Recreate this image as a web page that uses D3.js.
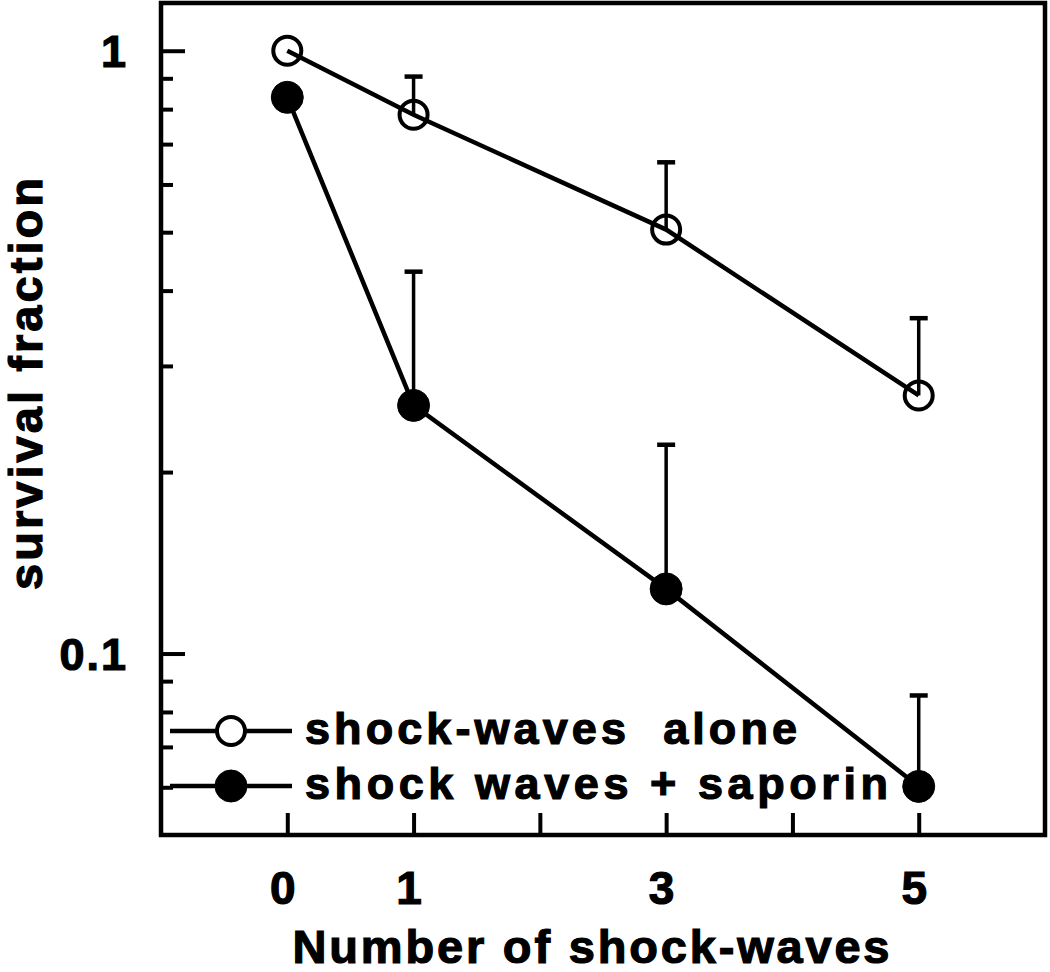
<!DOCTYPE html>
<html>
<head>
<meta charset="utf-8">
<script src="https://cdn.jsdelivr.net/npm/d3@7"></script>
<style>
  body { margin: 0; background: #fff; }
  text { font-family: "Liberation Sans", Arial, sans-serif; font-weight: bold; fill: #000; stroke: #000; stroke-width: 1.2px; }
</style>
</head>
<body>
<script>
var w = 1050, h = 972;

// data
var shocks = [0, 1, 3, 5];
var aloneMean = [1.0, 0.783, 0.505, 0.268];
var aloneUpper = [null, 0.906, 0.653, 0.360];
var saporinMean = [0.837, 0.258, 0.128, 0.0602];
var saporinUpper = [null, 0.430, 0.222, 0.0852];

var xTicks = [0, 1, 2, 3, 4, 5];
var xTickLabels = ["0", "1", "", "3", "", "5"];
var yMajor = [0.1, 1];
var yMinor = [0.06, 0.07, 0.08, 0.09, 0.2, 0.3, 0.4, 0.5, 0.6, 0.7, 0.8, 0.9];

var legendNames = ["shock-waves  alone", "shock waves + saporin"];

// plot box (window.top is reserved, so avoid "top")
var plotL = 161, plotR = 1045, plotT = 3, plotB = 835;

var svg = d3.select("body")
  .append("svg")
  .attr("width", w)
  .attr("height", h)
  .style("background-color", "#fff");

var x = d3.scaleLinear()
  .domain([-1, 6])
  .range([plotL, plotR]);

var y = d3.scaleLog()
  .domain([0.05, 1.2])
  .range([plotB, plotT]);

// y axis, inward ticks
var gy = svg.append("g")
  .attr("transform", "translate(" + plotL + ",0)")
  .call(d3.axisLeft(y)
    .tickValues(yMajor)
    .tickSize(-24)
    .tickPadding(33)
    .tickFormat(function(d) { return d === 1 ? "1" : "0.1"; }));

var gyMinor = svg.append("g")
  .attr("transform", "translate(" + plotL + ",0)")
  .call(d3.axisLeft(y).tickValues(yMinor).tickSize(-12).tickFormat(""));

// x axis
var gx = svg.append("g")
  .attr("transform", "translate(0," + plotB + ")")
  .call(d3.axisBottom(x)
    .tickValues(xTicks)
    .tickSize(-22)
    .tickPadding(36)
    .tickFormat(function(d, i) { return xTickLabels[i]; }));

svg.selectAll(".domain").remove();
svg.selectAll(".tick line")
  .attr("stroke", "#000")
  .attr("stroke-width", 4);
gy.selectAll("text")
  .attr("font-size", 45)
  .attr("letter-spacing", 2)
  .attr("dy", "0.36em");
gx.selectAll("text")
  .attr("font-size", 46)
  .attr("dx", -5);

// frame
svg.append("rect")
  .attr("x", plotL)
  .attr("y", plotT)
  .attr("width", plotR - plotL)
  .attr("height", plotB - plotT)
  .attr("fill", "none")
  .attr("stroke", "#000")
  .attr("stroke-width", 4.5);

var line = d3.line()
  .x(function(d) { return x(d[0]); })
  .y(function(d) { return y(d[1]); });

function drawSeries(means, uppers, filled, r) {
  var pts = shocks.map(function(s, i) { return [s, means[i], uppers[i]]; });

  svg.append("path")
    .datum(pts)
    .attr("d", line)
    .attr("fill", "none")
    .attr("stroke", "#000")
    .attr("stroke-width", 4.5);

  var bars = pts.filter(function(d) { return d[2] != null; });

  svg.selectAll(null)
    .data(bars)
    .enter()
    .append("line")
    .attr("x1", function(d) { return x(d[0]); })
    .attr("x2", function(d) { return x(d[0]); })
    .attr("y1", function(d) { return y(d[1]); })
    .attr("y2", function(d) { return y(d[2]); })
    .attr("stroke", "#000")
    .attr("stroke-width", 3.5);

  svg.selectAll(null)
    .data(bars)
    .enter()
    .append("line")
    .attr("x1", function(d) { return x(d[0]) - 9; })
    .attr("x2", function(d) { return x(d[0]) + 9; })
    .attr("y1", function(d) { return y(d[2]); })
    .attr("y2", function(d) { return y(d[2]); })
    .attr("stroke", "#000")
    .attr("stroke-width", 4.5);

  svg.selectAll(null)
    .data(pts)
    .enter()
    .append("circle")
    .attr("cx", function(d) { return x(d[0]); })
    .attr("cy", function(d) { return y(d[1]); })
    .attr("r", r)
    .attr("fill", filled ? "#000" : "none")
    .attr("stroke", "#000")
    .attr("stroke-width", filled ? 1 : 4);
}

drawSeries(aloneMean, aloneUpper, false, 14);
drawSeries(saporinMean, saporinUpper, true, 16);

// legend
var legendY = [731, 786];
var legendW = [492, 583];
var legend = svg.selectAll(".legend")
  .data(legendNames)
  .enter()
  .append("g")
  .attr("class", "legend")
  .attr("transform", function(d, i) { return "translate(0," + legendY[i] + ")"; });

legend.append("line")
  .attr("x1", 170)
  .attr("x2", 292)
  .attr("stroke", "#000")
  .attr("stroke-width", 4.5);

legend.append("circle")
  .attr("cx", 231)
  .attr("r", function(d, i) { return i === 0 ? 14 : 16; })
  .attr("fill", function(d, i) { return i === 0 ? "#fff" : "#000"; })
  .attr("stroke", "#000")
  .attr("stroke-width", function(d, i) { return i === 0 ? 4 : 1; });

legend.append("text")
  .attr("x", 305)
  .attr("y", 13)
  .attr("font-size", 45)
  .attr("textLength", function(d, i) { return legendW[i]; })
  .attr("lengthAdjust", "spacing")
  .style("white-space", "pre")
  .text(function(d) { return d; });

// axis titles
svg.append("text")
  .attr("x", 591)
  .attr("y", 963)
  .attr("text-anchor", "middle")
  .attr("font-size", 47)
  .attr("textLength", 597)
  .attr("lengthAdjust", "spacing")
  .text("Number of shock-waves");

svg.append("text")
  .attr("transform", "translate(42,384) rotate(-90)")
  .attr("text-anchor", "middle")
  .attr("font-size", 47)
  .attr("textLength", 412)
  .attr("lengthAdjust", "spacing")
  .text("survival fraction");
</script>
</body>
</html>
